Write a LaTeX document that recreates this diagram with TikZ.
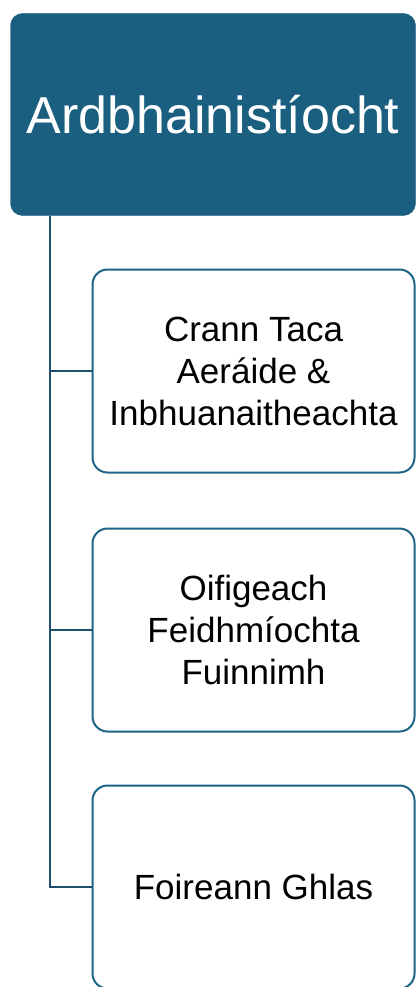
\documentclass[tikz,border=0pt]{standalone}
\usepackage{fontspec}
\setmainfont{Liberation Sans}
\usepackage{xcolor}
\usetikzlibrary{positioning}
\definecolor{headblue}{HTML}{1A5F80}
\definecolor{rimblue}{HTML}{1F6486}
\definecolor{linkblue}{HTML}{1D4F6B}
\tikzset{
	headbox/.style={
			draw=headblue, fill=headblue, rounded corners=12pt,
			minimum width=405pt, minimum height=202pt,
			text=white, font=\fontsize{52}{60}\selectfont
		},
	rolebox/.style={
			draw=rimblue, line width=2pt, fill=white, rounded corners=15pt,
			minimum width=322pt, minimum height=203pt, align=center,
			font=\fontsize{35}{42}\selectfont
		},
	link/.style={draw=linkblue, line width=2pt}
}

\begin{document}
\begin{tikzpicture}[x=1pt,y=-1pt]
            % Frame
            \useasboundingbox (0,0) rectangle (416,987);
            % Head
            \node[headbox] (head) at (213,114.5) {Ardbhainistíocht};
            % Roles
            \node[rolebox] (climate) at (253.5,371) {Crann Taca\\Aeráide \&\\Inbhuanaitheachta};
            \node[rolebox] (energy) at (253.5,630) {Oifigeach\\Feidhmíochta\\Fuinnimh};
            \node[rolebox] (green) at (253.5,887) {Foireann Ghlas};
            % Links
            \coordinate (trunk) at (50,0);
            \draw[link] (trunk |- head.south) -- (trunk |- green.west) -- (green.west);
            \draw[link] (trunk |- climate.west) -- (climate.west);
            \draw[link] (trunk |- energy.west) -- (energy.west);
        \end{tikzpicture}
\end{document}
